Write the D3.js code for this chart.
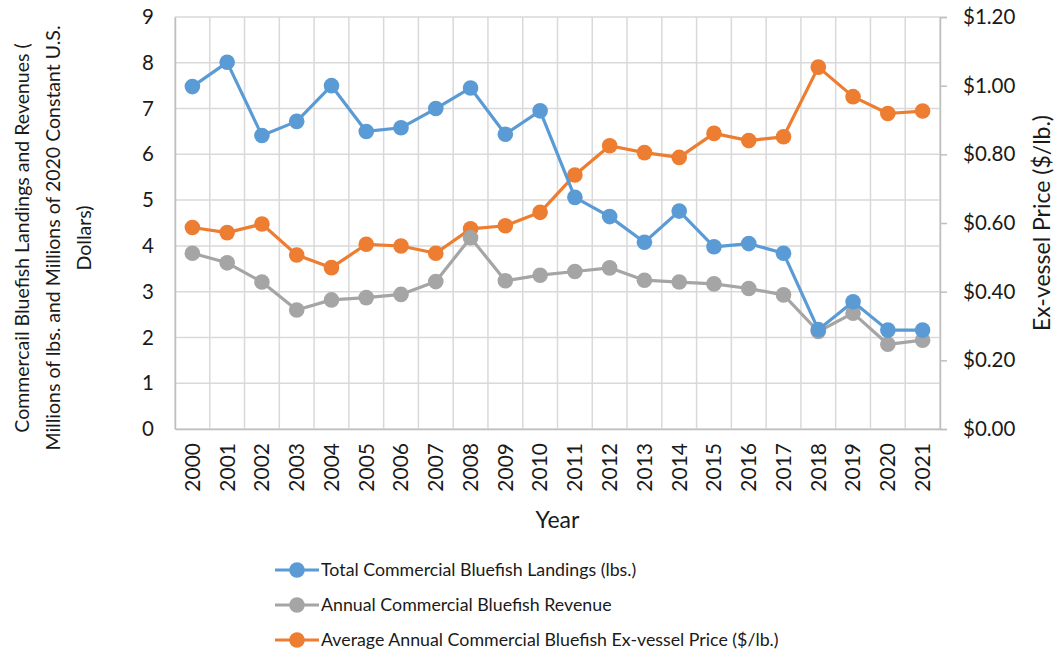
<!DOCTYPE html>
<html>
<head>
<meta charset="utf-8">
<script src="https://cdn.jsdelivr.net/npm/d3@7"></script>
<style>
  body { margin: 0; background: #fff; }
  svg { font-family: Lato, "Open Sans", sans-serif; }
</style>
</head>
<body>
<div id="chart"></div>
<script>
var years = [2000, 2001, 2002, 2003, 2004, 2005, 2006, 2007, 2008, 2009, 2010,
  2011, 2012, 2013, 2014, 2015, 2016, 2017, 2018, 2019, 2020, 2021];

// millions of lbs
var landings = [7.48, 8.01, 6.41, 6.72, 7.50, 6.50, 6.58, 7.00, 7.45, 6.44, 6.95,
  5.06, 4.64, 4.08, 4.76, 3.98, 4.05, 3.84, 2.17, 2.78, 2.16, 2.16];

// millions of 2020 dollars
var revenue = [3.84, 3.63, 3.21, 2.60, 2.82, 2.87, 2.94, 3.22, 4.18, 3.24, 3.36,
  3.44, 3.52, 3.25, 3.21, 3.17, 3.07, 2.93, 2.13, 2.53, 1.85, 1.94];

// $/lb
var price = [0.587, 0.572, 0.597, 0.507, 0.470, 0.538, 0.533, 0.512, 0.583, 0.592, 0.631,
  0.740, 0.825, 0.805, 0.791, 0.861, 0.840, 0.851, 1.054, 0.968, 0.919, 0.926];

var leftTicks = [0, 1, 2, 3, 4, 5, 6, 7, 8, 9];
var rightTicks = [0, 0.2, 0.4, 0.6, 0.8, 1.0, 1.2];

var series = [
  { name: "Total Commercial Bluefish Landings (lbs.)", values: landings, color: "#5b9bd5", axis: "left" },
  { name: "Annual Commercial Bluefish Revenue", values: revenue, color: "#a5a5a5", axis: "left" },
  { name: "Average Annual Commercial Bluefish Ex-vessel Price ($/lb.)", values: price, color: "#ed7d31", axis: "right" }
];
var drawOrder = [series[2], series[1], series[0]];

var width = 1060, height = 655;
var margin = { top: 17, right: 120, bottom: 226, left: 175 };
var chartWidth = width - margin.left - margin.right;
var chartHeight = height - margin.top - margin.bottom;

var svg = d3.select("#chart").append("svg")
  .attr("width", width)
  .attr("height", height);

var g = svg.append("g")
  .attr("transform", `translate(${margin.left}, ${margin.top})`);

var xScale = d3.scaleBand().domain(years).range([0, chartWidth]).padding(0);
var yLeft = d3.scaleLinear().domain([0, 9]).range([chartHeight, 0]);
var yRight = d3.scaleLinear().domain([0, 1.2]).range([chartHeight, 0]);

// gridlines
var grid = g.append("g").attr("class", "grid");
grid.selectAll(".hgrid")
  .data(leftTicks)
  .enter()
  .append("line")
  .attr("x1", 0).attr("x2", chartWidth)
  .attr("y1", d => yLeft(d)).attr("y2", d => yLeft(d))
  .attr("stroke", "#d9d9d9").attr("stroke-width", 1.5);

var edges = years.map(d => xScale(d)).concat([chartWidth]);
grid.selectAll(".vgrid")
  .data(edges)
  .enter()
  .append("line")
  .attr("x1", d => d).attr("x2", d => d)
  .attr("y1", 0).attr("y2", chartHeight)
  .attr("stroke", "#d9d9d9").attr("stroke-width", 1.5);

// axes
var yAxisLeft = d3.axisLeft(yLeft).tickValues(leftTicks).tickSize(0).tickPadding(21);
var yAxisRight = d3.axisRight(yRight).tickValues(rightTicks).tickSize(7).tickPadding(16)
  .tickFormat(d => "$" + d3.format(".2f")(d));
var xAxis = d3.axisBottom(xScale).tickSize(0).tickPadding(0);

var la = g.append("g").attr("class", "y axis").call(yAxisLeft);
var ra = g.append("g").attr("class", "y2 axis")
  .attr("transform", `translate(${chartWidth}, 0)`).call(yAxisRight);
var xa = g.append("g").attr("class", "x axis")
  .attr("transform", `translate(0, ${chartHeight})`).call(xAxis);

svg.selectAll(".axis path.domain").attr("stroke", "#bfbfbf").attr("stroke-width", 1.5);
svg.selectAll(".axis line").attr("stroke", "#bfbfbf").attr("stroke-width", 1.5);
svg.selectAll(".axis text").attr("fill", "#1a1a1a").style("font-size", "20.5px")
  .style("font-family", "Lato, sans-serif");

xa.selectAll("text")
  .attr("transform", "rotate(-90)")
  .attr("text-anchor", "end")
  .attr("dy", "0.35em")
  .attr("x", -14)
  .attr("y", 0)
  .style("font-size", "21px");

// lines and markers
var plot = g.append("g").attr("class", "series");
drawOrder.forEach(s => {
  var yS = s.axis === "left" ? yLeft : yRight;
  var line = d3.line()
    .x((d, i) => xScale(years[i]) + xScale.bandwidth() / 2)
    .y(d => yS(d));
  plot.append("path")
    .datum(s.values)
    .attr("fill", "none")
    .attr("stroke", s.color)
    .attr("stroke-width", 3.2)
    .attr("stroke-linejoin", "round")
    .attr("d", line);
  plot.selectAll(null)
    .data(s.values)
    .enter()
    .append("circle")
    .attr("cx", (d, i) => xScale(years[i]) + xScale.bandwidth() / 2)
    .attr("cy", d => yS(d))
    .attr("r", 7.8)
    .attr("fill", s.color);
});

// axis titles
svg.append("text")
  .attr("x", margin.left + chartWidth / 2)
  .attr("y", 528)
  .attr("text-anchor", "middle")
  .style("font-size", "23px")
  .attr("fill", "#1a1a1a")
  .text("Year");

var leftTitle = ["Commercail Bluefish Landings and Revenues (",
  "Millions of lbs. and Millions of 2020 Constant U.S.",
  "Dollars)"];
var lt = svg.append("text")
  .attr("transform", "translate(29, 238) rotate(-90)")
  .attr("text-anchor", "middle")
  .style("font-size", "19.5px")
  .attr("fill", "#1a1a1a");
lt.selectAll("tspan")
  .data(leftTitle)
  .enter()
  .append("tspan")
  .attr("x", 0)
  .attr("y", (d, i) => i * 31)
  .text(d => d);

svg.append("text")
  .attr("transform", "translate(1050, 223) rotate(-90)")
  .attr("text-anchor", "middle")
  .style("font-size", "23px")
  .attr("fill", "#1a1a1a")
  .text("Ex-vessel Price ($/lb.)");

// legend
var legend = svg.append("g").attr("transform", "translate(275, 570)");
var items = legend.selectAll(".item")
  .data(series)
  .enter()
  .append("g")
  .attr("class", "item")
  .attr("transform", (d, i) => `translate(0, ${i * 35})`);
items.append("line")
  .attr("x1", 0).attr("x2", 44)
  .attr("stroke", d => d.color).attr("stroke-width", 3.2);
items.append("circle")
  .attr("cx", 22).attr("r", 7.8)
  .attr("fill", d => d.color);
items.append("text")
  .attr("x", 46)
  .attr("dy", "0.35em")
  .style("font-size", "17.8px")
  .attr("fill", "#1a1a1a")
  .text(d => d.name);
</script>
</body>
</html>
